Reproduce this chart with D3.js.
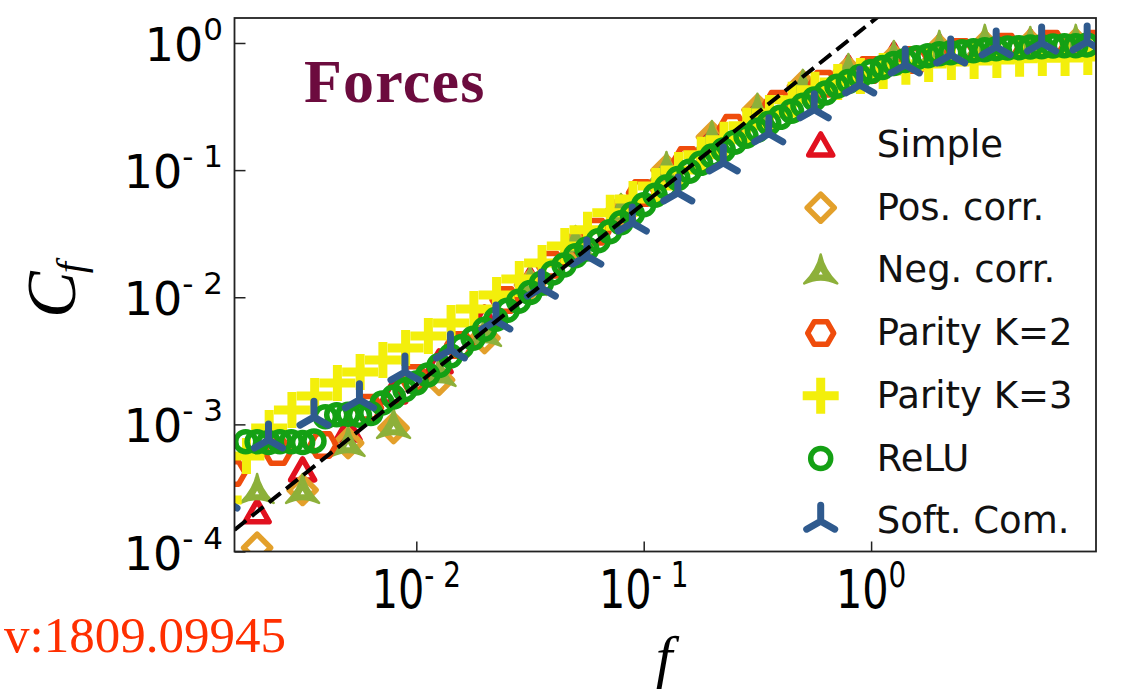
<!DOCTYPE html>
<html>
<head>
<meta charset="utf-8">
<script src="https://cdn.jsdelivr.net/npm/d3@7"></script>
<style>
  html, body { margin: 0; padding: 0; background: #ffffff; }
  svg { display: block; }
</style>
</head>
<body>
<svg id="chart" width="1121" height="689"></svg>
<script>
// ---- axis limits and ticks ----
const fLimits = [0.0015867, 9.750];
const cLimits = [1e-4, 1.5724];
const fTicks = [0.01, 0.1, 1];
const cTicks = [1e-4, 1e-3, 1e-2, 1e-1, 1];
const fTickExp = [-2, -1, 0];
const cTickExp = [-4, -3, -2, -1, 0];

// ---- series names (legend order) ----
const seriesNames = ["Simple", "Pos. corr.", "Neg. corr.", "Parity K=2", "Parity K=3", "ReLU", "Soft. Com."];

// ---- f grids ----
const fCoarse = [0.001995, 0.003162, 0.005012, 0.007943, 0.01259, 0.01995, 0.03162, 0.05012, 0.07943, 0.1259,
                 0.1995, 0.3162, 0.5012, 0.7943, 1.259, 1.995, 3.162, 5.012, 7.943];
const fParity2 = [0.001549, 0.002455, 0.003890, 0.006166, 0.009772, 0.01549, 0.02455, 0.03890, 0.06166, 0.09772,
                  0.1549, 0.2455, 0.3890, 0.6166, 0.9772, 1.549, 2.455, 3.890, 6.166, 9.772];
const fParity3 = [0.001422, 0.001791, 0.002254, 0.002838, 0.003573, 0.004498, 0.005662, 0.007129, 0.008974, 0.01130,
                  0.01422, 0.01791, 0.02254, 0.02838, 0.03573, 0.04498, 0.05662, 0.07129, 0.08974, 0.1130,
                  0.1422, 0.1791, 0.2254, 0.2838, 0.3573, 0.4498, 0.5662, 0.7129, 0.8974, 1.130,
                  1.422, 1.791, 2.254, 2.838, 3.573, 4.498, 5.662, 7.129, 8.974];
const fReLU = [0.001778, 0.001995, 0.002239, 0.002512, 0.002818, 0.003162, 0.003548, 0.003981, 0.004467, 0.005012,
               0.005623, 0.006310, 0.007079, 0.007943, 0.008913, 0.01, 0.01122, 0.01259, 0.01413, 0.01585,
               0.01778, 0.01995, 0.02239, 0.02512, 0.02818, 0.03162, 0.03548, 0.03981, 0.04467, 0.05012,
               0.05623, 0.06310, 0.07079, 0.07943, 0.08913, 0.1, 0.1122, 0.1259, 0.1413, 0.1585,
               0.1778, 0.1995, 0.2239, 0.2512, 0.2818, 0.3162, 0.3548, 0.3981, 0.4467, 0.5012,
               0.5623, 0.6310, 0.7079, 0.7943, 0.8913, 1.0, 1.122, 1.259, 1.413, 1.585,
               1.778, 1.995, 2.239, 2.512, 2.818, 3.162, 3.548, 3.981, 4.467, 5.012,
               5.623, 6.310, 7.079, 7.943, 8.913];
const fSoft = [0.001413, 0.002239, 0.003548, 0.005623, 0.008913, 0.01413, 0.02239, 0.03548, 0.05623, 0.08913,
               0.1413, 0.2239, 0.3548, 0.5623, 0.8913, 1.413, 2.239, 3.548, 5.623, 8.913];

// ---- C_f values ----
const cSimple = [2.05e-4, 4.38e-4, 9.04e-4, 1.80e-3, 3.10e-3, 6.87e-3, 1.37e-2, 2.67e-2, 5.04e-2, 0.104,
                 0.186, 0.309, 0.468, 0.637, 0.806, 0.932, 1.00, 1.02, 1.02];
const cPos = [1.07e-4, 3.05e-4, 7.14e-4, 9.37e-4, 2.24e-3, 4.78e-3, 1.25e-2, 2.58e-2, 4.86e-2, 0.100,
              0.182, 0.298, 0.460, 0.592, 0.736, 0.882, 0.949, 0.966, 0.984];
const cNeg = [3.05e-4, 3.05e-4, 7.14e-4, 9.89e-4, 2.54e-3, 5.24e-3, 1.32e-2, 2.72e-2, 4.86e-2, 0.104,
              0.182, 0.298, 0.460, 0.614, 0.777, 0.932, 1.039, 1.00, 1.039];
const cParity2 = [4.15e-4, 6.06e-4, 6.89e-4, 1.35e-3, 2.32e-3, 4.21e-3, 9.52e-3, 1.80e-2, 3.27e-2, 6.62e-2,
                  0.120, 0.215, 0.332, 0.477, 0.614, 0.736, 0.851, 0.932, 0.984, 0.984];
const cParity3 = [2.54e-4, 5.64e-4, 9.37e-4, 1.30e-3, 1.67e-3, 2.12e-3, 2.58e-3, 3.21e-3, 3.99e-3, 4.96e-3,
                  6.28e-3, 8.09e-3, 1.04e-2, 1.39e-2, 1.86e-2, 2.53e-2, 3.40e-2, 4.61e-2, 5.93e-2, 7.51e-2,
                  0.100, 0.132, 0.173, 0.223, 0.282, 0.357, 0.428, 0.494, 0.551, 0.603,
                  0.649, 0.685, 0.710, 0.723, 0.736, 0.750, 0.763, 0.763, 0.777];
const cReLU = [7.3e-4, 7.3e-4, 7.2e-4, 7.3e-4, 7.3e-4, 7.2e-4, 7.4e-4, 1.15e-3, 1.19e-3, 1.20e-3,
               1.18e-3, 1.22e-3, 1.47e-3, 1.64e-3, 1.87e-3, 2.12e-3, 2.45e-3, 2.90e-3, 3.45e-3, 4.10e-3,
               4.75e-3, 5.60e-3, 6.70e-3, 7.90e-3, 9.30e-3, 1.09e-2, 1.29e-2, 1.55e-2, 1.79e-2, 2.12e-2,
               2.40e-2, 2.78e-2, 3.28e-2, 3.85e-2, 4.52e-2, 5.33e-2, 6.35e-2, 7.35e-2, 8.60e-2, 9.80e-2,
               0.113, 0.129, 0.144, 0.166, 0.185, 0.206, 0.234, 0.260, 0.291, 0.324,
               0.362, 0.404, 0.456, 0.498, 0.546, 0.597, 0.641, 0.689, 0.727, 0.766,
               0.795, 0.823, 0.838, 0.853, 0.869, 0.884, 0.900, 0.915, 0.917, 0.932,
               0.934, 0.949, 0.951, 0.952, 0.966];
const cSoft = [2.54e-4, 7.54e-4, 1.14e-3, 1.56e-3, 2.58e-3, 3.85e-3, 6.51e-3, 1.18e-2, 2.11e-2, 3.84e-2,
               6.62e-2, 0.114, 0.193, 0.298, 0.468, 0.672, 0.806, 0.932, 1.00, 1.02];

// ---- dashed reference line (two end points) ----
const refF = [0.0015867, 1.0735];
const refC = [1.48e-4, 1.610];

// ---- styling ----
const colors = ["#e1111f", "#e3a02b", "#8db03a", "#ef4c0c", "#f3ef0b", "#14a014", "#2f5a8e"];

const svg = d3.select("#chart");
const plot = { left: 234.5, right: 1096, top: 18, bottom: 551.5 };

const x = d3.scaleLog().domain(fLimits).range([plot.left, plot.right]);
const y = d3.scaleLog().domain(cLimits).range([plot.bottom, plot.top]);

svg.append("defs").append("clipPath").attr("id", "plotClip")
  .append("rect")
  .attr("x", plot.left).attr("y", plot.top)
  .attr("width", plot.right - plot.left).attr("height", plot.bottom - plot.top);

// marker shapes, each centred on (0,0)
const hexPts = d3.range(6).map(i => [13 * Math.cos(i * Math.PI / 3), 13 * Math.sin(i * Math.PI / 3)]);
const markers = [
  { d: "M0,-11L12,10L-12,10Z", fill: "none", sw: 5.5, cap: "round", join: "round" },
  { d: "M0,-13.5L13.5,0L0,13.5L-13.5,0Z", fill: "none", sw: 5.5, cap: "round", join: "round" },
  { d: "M0,-16Q3,-0.5 16.5,13Q0,5 -16.5,13Q-3,-0.5 0,-16Z", fill: "fill", sw: 2.5, cap: "round", join: "round", dot: true },
  { d: "M" + hexPts.map(p => p.join(",")).join("L") + "Z", fill: "none", sw: 5.5, cap: "round", join: "round" },
  { d: "M-18,0H18M0,-18V18", fill: "none", sw: 9, cap: "butt", join: "miter" },
  { d: "M10,0A10,10 0 1,1 -10,0A10,10 0 1,1 10,0Z", fill: "none", sw: 5.5, cap: "round", join: "round" },
  { d: "M0,0V-16M0,0L-14,8M0,0L14,8", fill: "none", sw: 7, cap: "round", join: "round" }
];

function drawMarker(sel, i) {
  const m = markers[i];
  sel.append("path")
    .attr("d", m.d)
    .attr("fill", m.fill === "fill" ? colors[i] : "none")
    .attr("stroke", colors[i])
    .attr("stroke-width", m.sw)
    .attr("stroke-linecap", m.cap)
    .attr("stroke-linejoin", m.join);
  if (m.dot) {
    sel.append("path").attr("d", "M0,0.8L2,4.2L-2,4.2Z").attr("fill", "#ffffff");
  }
}

const seriesF = [fCoarse, fCoarse, fCoarse, fParity2, fParity3, fReLU, fSoft];
const seriesC = [cSimple, cPos, cNeg, cParity2, cParity3, cReLU, cSoft];

const dataLayer = svg.append("g").attr("clip-path", "url(#plotClip)");

seriesNames.forEach((name, i) => {
  const pts = d3.zip(seriesF[i], seriesC[i]);
  dataLayer.append("g").attr("class", "series")
    .selectAll("g").data(pts).join("g")
    .attr("transform", d => `translate(${x(d[0])},${y(d[1])})`)
    .each(function () { drawMarker(d3.select(this), i); });
});

// dashed reference line
dataLayer.append("path")
  .datum(d3.zip(refF, refC))
  .attr("d", d3.line().x(d => x(d[0])).y(d => y(d[1])))
  .attr("fill", "none")
  .attr("stroke", "#000000")
  .attr("stroke-width", 4)
  .attr("stroke-dasharray", "15,7");

// frame
svg.append("rect")
  .attr("x", plot.left).attr("y", plot.top)
  .attr("width", plot.right - plot.left).attr("height", plot.bottom - plot.top)
  .attr("fill", "none").attr("stroke", "#222").attr("stroke-width", 1.8);

// ticks (inward)
const yAxis = d3.axisLeft(y).tickValues(cTicks).tickSize(-11).tickFormat("");
const xAxis = d3.axisBottom(x).tickValues(fTicks).tickSize(-10).tickFormat("");
svg.append("g").attr("transform", `translate(${plot.left},0)`).call(yAxis)
  .call(g => g.select(".domain").remove())
  .call(g => g.selectAll("line").attr("stroke", "#222").attr("stroke-width", 1.5));
svg.append("g").attr("transform", `translate(0,${plot.bottom})`).call(xAxis)
  .call(g => g.select(".domain").remove())
  .call(g => g.selectAll("line").attr("stroke", "#222").attr("stroke-width", 1.5));

function supText(e) {
  return e < 0 ? "- " + (-e) : String(e);
}

// y tick labels
cTicks.forEach((v, i) => {
  const t = svg.append("text")
    .attr("x", 223).attr("y", y(v) + 18)
    .attr("text-anchor", "end")
    .attr("font-family", "DejaVu Sans")
    .attr("font-size", 46)
    .attr("fill", "#000");
  t.append("tspan").text("10");
  t.append("tspan").attr("font-size", 31).attr("dy", -21).text(supText(cTickExp[i]));
});

// x tick labels (slightly condensed)
fTicks.forEach((v, i) => {
  const t = svg.append("g")
    .attr("transform", `translate(${x(v)},608) scale(0.9,1.15)`)
    .append("text")
    .attr("text-anchor", "middle")
    .attr("font-family", "DejaVu Sans")
    .attr("font-size", 46)
    .attr("fill", "#000");
  t.append("tspan").text("10");
  t.append("tspan").attr("font-size", 31).attr("dy", -18).text(supText(fTickExp[i]));
});

// axis titles
const yTitle = svg.append("text")
  .attr("transform", "translate(75,318) rotate(-90)")
  .attr("font-family", "Liberation Serif")
  .attr("font-style", "italic")
  .attr("font-size", 70)
  .attr("fill", "#000");
yTitle.append("tspan").text("C");
yTitle.append("tspan").attr("font-size", 40).attr("dy", 9).attr("dx", -2).text("f");

svg.append("text")
  .attr("x", 664).attr("y", 677)
  .attr("text-anchor", "middle")
  .attr("font-family", "Liberation Serif")
  .attr("font-style", "italic")
  .attr("font-size", 60)
  .attr("fill", "#000")
  .text("f");

// panel title
svg.append("text")
  .attr("x", 304).attr("y", 102)
  .attr("font-family", "Liberation Serif")
  .attr("font-weight", "bold")
  .attr("font-size", 62)
  .attr("letter-spacing", 1.2)
  .attr("fill", "#6c0b3e")
  .text("Forces");

// source note
svg.append("text")
  .attr("x", 286).attr("y", 652)
  .attr("text-anchor", "end")
  .attr("font-family", "Liberation Serif")
  .attr("font-size", 51)
  .attr("fill", "#ff2f00")
  .text("v:1809.09945");

// legend
const legend = svg.append("g");
seriesNames.forEach((name, i) => {
  const base = 157 + 62.7 * i;
  const mk = legend.append("g").attr("transform", `translate(820.7,${base - 12})`);
  drawMarker(mk, i);
  legend.append("text")
    .attr("x", 876.7).attr("y", base)
    .attr("font-family", "DejaVu Sans")
    .attr("font-size", 37)
    .attr("fill", "#111")
    .text(name);
});
</script>
</body>
</html>
